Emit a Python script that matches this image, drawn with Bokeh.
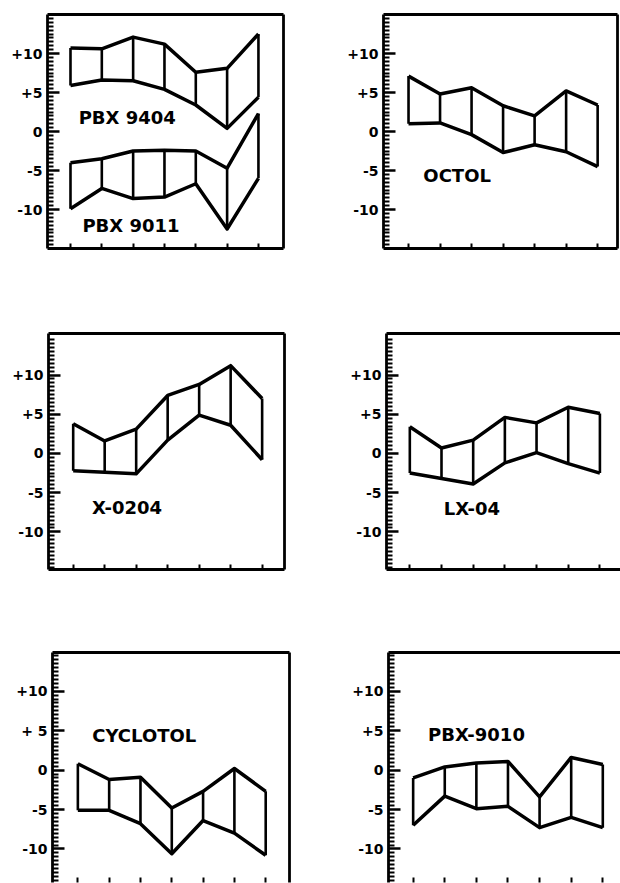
from bokeh.plotting import figure
from bokeh.layouts import column, row
from bokeh.models import LinearAxis, FixedTicker, Range1d, Label
from bokeh.embed import file_html
from bokeh.resources import INLINE

# ---------------- data ----------------
positions = [0, 1, 2, 3, 4, 5, 6]

pbx9404_upper = [10.7, 10.6, 12.1, 11.2, 7.6, 8.1, 12.5]
pbx9404_lower = [5.9, 6.6, 6.5, 5.4, 3.4, 0.4, 4.4]
pbx9011_upper = [-4.0, -3.5, -2.5, -2.4, -2.5, -4.7, 2.3]
pbx9011_lower = [-9.9, -7.3, -8.6, -8.4, -6.7, -12.5, -6.0]

octol_upper = [7.1, 4.8, 5.6, 3.3, 2.0, 5.2, 3.4]
octol_lower = [1.0, 1.1, -0.4, -2.7, -1.7, -2.6, -4.5]

x0204_upper = [3.8, 1.6, 3.1, 7.4, 8.8, 11.2, 7.0]
x0204_lower = [-2.2, -2.4, -2.6, 1.7, 4.9, 3.6, -0.8]

lx04_upper = [3.4, 0.7, 1.7, 4.6, 3.9, 5.9, 5.1]
lx04_lower = [-2.5, -3.2, -3.9, -1.2, 0.1, -1.3, -2.5]

cyclotol_upper = [0.8, -1.2, -0.9, -4.8, -2.7, 0.2, -2.7]
cyclotol_lower = [-5.1, -5.1, -6.8, -10.6, -6.4, -8.0, -10.8]

pbx9010_upper = [-1.0, 0.4, 0.9, 1.1, -3.4, 1.6, 0.7]
pbx9010_lower = [-7.0, -3.3, -4.9, -4.6, -7.3, -6.0, -7.3]

y_tick_values = [-10, -5, 0, 5, 10]
y_tick_labels = ["-10", "-5", "0", "+5", "+10"]
y_tick_labels_cyclotol = ["-10", "-5", "0", "+ 5", "+10"]

FONT = "DejaVu Sans"
LW_FRAME = 2.8


def edge_axis():
    return LinearAxis(ticker=FixedTicker(ticks=[], minor_ticks=[]),
                      axis_line_width=LW_FRAME, major_tick_in=0, major_tick_out=0,
                      minor_tick_in=0, minor_tick_out=0,
                      major_label_text_font_size="1px",
                      major_label_text_color=None, major_label_standoff=0)


def make_panel(width, height, bl, br, bt, bb, xr, yr, bands, labels,
               tick_labels=y_tick_labels, right_line=True, bottom_line=True):
    p = figure(width=width, height=height,
               x_range=Range1d(*xr), y_range=Range1d(*yr),
               output_backend="svg", toolbar_location=None,
               x_axis_location=None, y_axis_location=None,
               min_border_left=bl, min_border_right=br,
               min_border_top=bt, min_border_bottom=bb,
               outline_line_color=None, background_fill_color="white",
               border_fill_color="white")
    p.xgrid.visible = False
    p.ygrid.visible = False

    minor = [m / 2 for m in range(-29, 30) if m % 10 != 0]
    yaxis = LinearAxis(
        ticker=FixedTicker(ticks=y_tick_values, minor_ticks=minor),
        major_label_overrides={v: t for v, t in zip(y_tick_values, tick_labels)},
        major_tick_in=12, major_tick_out=0,
        minor_tick_in=6, minor_tick_out=0,
        axis_line_width=LW_FRAME, major_tick_line_width=2.5,
        minor_tick_line_width=2,
        major_label_text_font=FONT, major_label_text_font_style="bold",
        major_label_text_font_size="14px", major_label_standoff=5,
        major_label_text_color="black")
    p.add_layout(yaxis, "left")

    xaxis = LinearAxis(
        ticker=FixedTicker(ticks=positions, minor_ticks=[]),
        major_tick_in=5, major_tick_out=0, minor_tick_in=0, minor_tick_out=0,
        major_tick_line_width=2,
        axis_line_width=LW_FRAME,
        axis_line_color="black" if bottom_line else None,
        major_label_text_font_size="1px", major_label_text_color=None,
        major_label_standoff=0)
    p.add_layout(xaxis, "below")

    p.add_layout(edge_axis(), "above")
    if right_line:
        p.add_layout(edge_axis(), "right")

    for upper, lower in bands:
        p.segment(x0=positions, y0=lower, x1=positions, y1=upper,
                  line_color="black", line_width=2.6)
        p.line(positions, upper, line_color="black", line_width=3.5,
               line_join="round")
        p.line(positions, lower, line_color="black", line_width=3.5,
               line_join="round")

    for txt, x, y in labels:
        p.add_layout(Label(x=x, y=y, text=txt, text_font=FONT,
                           text_font_style="bold", text_font_size="18px",
                           text_align="left", text_baseline="middle",
                           text_color="black"))
    return p


# row 1 (page y 0..290)
p1 = make_panel(330, 290, 47, 47, 14, 42, (-0.734, 6.8), (-15, 15),
                [(pbx9404_upper, pbx9404_lower), (pbx9011_upper, pbx9011_lower)],
                [("PBX 9404", 0.26, 1.8), ("PBX 9011", 0.38, -12.05)])
p2 = make_panel(290, 290, 53, 3, 14, 42, (-0.794, 6.63), (-15, 15),
                [(octol_upper, octol_lower)],
                [("OCTOL", 0.47, -5.6)])

# row 2 (page y 290..610)
p3 = make_panel(330, 320, 48, 46, 43, 41, (-0.784, 6.71), (-14.8, 15.3),
                [(x0204_upper, x0204_lower)],
                [("X-0204", 0.6, -6.9)])
p4 = make_panel(290, 320, 56, 0, 43, 41, (-0.736, 6.65), (-14.8, 15.3),
                [(lx04_upper, lx04_lower)],
                [("LX-04", 1.07, -7.0)], right_line=False)

# row 3 (page y 610..883)
p5 = make_panel(330, 273, 52, 41, 42, 1, (-0.81, 6.76), (-14.25, 14.9),
                [(cyclotol_upper, cyclotol_lower)],
                [("CYCLOTOL", 0.46, 4.4)], tick_labels=y_tick_labels_cyclotol,
                bottom_line=False)
p6 = make_panel(290, 273, 58, 0, 42, 1, (-0.78, 6.56), (-14.25, 14.9),
                [(pbx9010_upper, pbx9010_lower)],
                [("PBX-9010", 0.47, 4.55)], right_line=False, bottom_line=False)

layout = column(row(p1, p2, spacing=0), row(p3, p4, spacing=0),
                row(p5, p6, spacing=0), spacing=0)

open("out.html", "w").write(file_html(layout, INLINE))
